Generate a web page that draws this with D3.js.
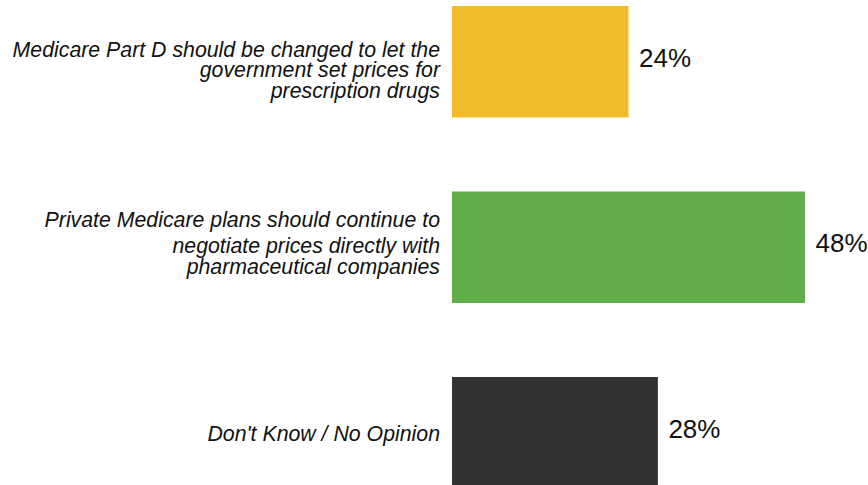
<!DOCTYPE html>
<html>
<head>
<meta charset="utf-8">
<script src="https://cdn.jsdelivr.net/npm/d3@7"></script>
<style>
  html, body { margin: 0; padding: 0; background: #fff; }
  svg { display: block; }
</style>
</head>
<body>
<svg id="chart" width="868" height="485"></svg>
<script>
// ---- data ----
const categories = [
  "Medicare Part D should be changed to let the government set prices for prescription drugs",
  "Private Medicare plans should continue to negotiate prices directly with pharmaceutical companies",
  "Don't Know / No Opinion"
];
const labelLines = [
  ["Medicare Part D should be changed to let the", "government set prices for", "prescription drugs"],
  ["Private Medicare plans should continue to", "negotiate prices directly with", "pharmaceutical companies"],
  ["Don't Know / No Opinion"]
];
const values = [24, 48, 28];
const valueLabels = ["24%", "48%", "28%"];
const colors = ["#F1BB29", "#62AD4B", "#323232"];

// ---- layout ----
const svg = d3.select("#chart");
const x = d3.scaleLinear().domain([0, 48]).range([452, 805]);
const y = d3.scaleBand().domain(categories).range([6, 488.5])
  .paddingInner(0.399).paddingOuter(0);

// baseline of first label line relative to bar centre, and gaps between lines
const firstBaseline = [-4.8, -20.5, 8];
const lineGaps = [[20.5, 20.3], [26.5, 20.3], []];

svg.selectAll("rect.bar").data(values).join("rect")
  .attr("class", "bar")
  .attr("x", x(0))
  .attr("y", (d, i) => y(categories[i]))
  .attr("width", d => x(d) - x(0))
  .attr("height", y.bandwidth())
  .attr("fill", (d, i) => colors[i]);

svg.selectAll("text.val").data(values).join("text")
  .attr("class", "val")
  .attr("x", d => x(d) + 10.5)
  .attr("y", (d, i) => y(categories[i]) + y.bandwidth() / 2 + 5)
  .attr("font-family", "'Liberation Sans', Arial, sans-serif")
  .attr("font-size", 26)
  .attr("fill", "#111")
  .text((d, i) => valueLabels[i]);

const lab = svg.selectAll("text.cat").data(labelLines).join("text")
  .attr("class", "cat")
  .attr("text-anchor", "end")
  .attr("font-family", "'Liberation Sans', Arial, sans-serif")
  .attr("font-style", "italic")
  .attr("font-size", 21.3)
  .attr("fill", "#111");

lab.each(function(lines, i) {
  const base = y(categories[i]) + y.bandwidth() / 2 + firstBaseline[i];
  const ys = lines.map((l, j) => base + d3.sum(lineGaps[i].slice(0, j)));
  d3.select(this).selectAll("tspan").data(lines).join("tspan")
    .attr("x", 440)
    .attr("y", (l, j) => ys[j])
    .text(l => l);
});
</script>
</body>
</html>
